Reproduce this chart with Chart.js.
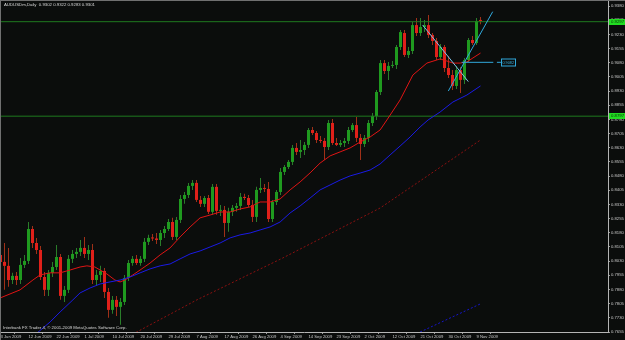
<!DOCTYPE html>
<html><head><meta charset="utf-8">
<script src="https://cdn.jsdelivr.net/npm/chart.js@4.4.1/dist/chart.umd.min.js"></script>
<style>html,body{margin:0;padding:0;background:#0b0d0c;overflow:hidden}</style>
</head><body>
<canvas id="c" width="625" height="340"></canvas>
<script>
// ---------- data ----------
const symbolTitle = "AUDUSDm,Daily  0.9302 0.9322 0.9283 0.9301";
const footerText = "Interbank FX Trader 4, \u00a9 2001-2009 MetaQuotes Software Corp.";

const dateLabels = ["3 Jun 2009","12 Jun 2009","22 Jun 2009","1 Jul 2009","10 Jul 2009","20 Jul 2009",
  "29 Jul 2009","7 Aug 2009","17 Aug 2009","26 Aug 2009","4 Sep 2009","14 Sep 2009","23 Sep 2009",
  "2 Oct 2009","12 Oct 2009","21 Oct 2009","30 Oct 2009","9 Nov 2009"];
const dateLabelBars = [0,7,14,21,28,35,42,49,56,63,70,77,84,91,98,105,112,119];

const priceTicks = [0.7655,0.7730,0.7805,0.7880,0.7955,0.8030,0.8105,0.8180,0.8255,0.8330,0.8405,0.8480,
  0.8555,0.8630,0.8705,0.8780,0.8855,0.8930,0.9005,0.9080,0.9155,0.9230,0.9305,0.9380];

const opens = [0.8063,0.8026,0.8005,0.7930,0.7952,0.7930,0.8010,0.8031,0.8200,0.8126,
  0.8089,0.7946,0.7878,0.7968,0.7999,0.8052,0.7846,0.7878,0.8042,0.8068,
  0.8079,0.8100,0.8068,0.8089,0.7930,0.7957,0.7978,0.7867,0.7772,0.7825,
  0.7788,0.7814,0.7941,0.8020,0.8042,0.8020,0.8042,0.8132,0.8153,0.8150,
  0.8142,0.8179,0.8200,0.8237,0.8158,0.8248,0.8359,0.8380,0.8428,0.8444,
  0.8354,0.8333,0.8364,0.8291,0.8423,0.8296,0.8301,0.8232,0.8291,0.8312,
  0.8322,0.8370,0.8364,0.8327,0.8264,0.8407,0.8417,0.8412,0.8253,0.8343,
  0.8396,0.8502,0.8528,0.8555,0.8629,0.8608,0.8618,0.8645,0.8724,0.8708,
  0.8671,0.8666,0.8634,0.8761,0.8655,0.8645,0.8655,0.8666,0.8724,0.8750,
  0.8682,0.8650,0.8682,0.8761,0.8798,0.8925,0.9078,0.9036,0.9063,0.9068,
  0.9163,0.9237,0.9121,0.9142,0.9279,0.9237,0.9269,0.9279,0.9227,0.9195,
  0.9110,0.9163,0.9052,0.9015,0.8957,0.9041,0.8989,0.9094,0.9200,0.9184,
  0.9302];
const highs = [0.8116,0.8126,0.8100,0.7968,0.7973,0.8047,0.8063,0.8237,0.8216,0.8153,
  0.8110,0.7973,0.7983,0.8026,0.8116,0.8068,0.7899,0.8063,0.8089,0.8100,
  0.8142,0.8158,0.8116,0.8121,0.7983,0.8005,0.7994,0.7888,0.7846,0.7846,
  0.7835,0.7957,0.8036,0.8057,0.8063,0.8057,0.8153,0.8169,0.8174,0.8179,
  0.8195,0.8216,0.8253,0.8259,0.8264,0.8380,0.8396,0.8444,0.8459,0.8459,
  0.8375,0.8375,0.8380,0.8438,0.8438,0.8327,0.8322,0.8312,0.8327,0.8338,
  0.8391,0.8386,0.8380,0.8354,0.8423,0.8470,0.8438,0.8449,0.8354,0.8407,
  0.8523,0.8539,0.8565,0.8645,0.8655,0.8671,0.8661,0.8735,0.8740,0.8719,
  0.8692,0.8682,0.8777,0.8782,0.8682,0.8671,0.8682,0.8740,0.8761,0.8793,
  0.8703,0.8698,0.8777,0.8814,0.8936,0.9094,0.9094,0.9084,0.9089,0.9174,
  0.9253,0.9253,0.9163,0.9295,0.9317,0.9317,0.9306,0.9332,0.9237,0.9211,
  0.9179,0.9174,0.9115,0.9041,0.9063,0.9057,0.9105,0.9211,0.9221,0.9317,
  0.9322];
const lows = [0.7994,0.7878,0.7894,0.7909,0.7904,0.7909,0.7994,0.8015,0.8100,0.8068,
  0.7930,0.7846,0.7846,0.7946,0.7983,0.7825,0.7814,0.7862,0.8020,0.8047,
  0.8057,0.8047,0.8036,0.7909,0.7899,0.7920,0.7835,0.7730,0.7751,0.7740,
  0.7693,0.7798,0.7925,0.8005,0.8010,0.8005,0.8026,0.8116,0.8137,0.8121,
  0.8110,0.8153,0.8190,0.8142,0.8142,0.8232,0.8333,0.8364,0.8407,0.8343,
  0.8317,0.8317,0.8280,0.8275,0.8275,0.8269,0.8158,0.8185,0.8269,0.8291,
  0.8301,0.8354,0.8317,0.8237,0.8237,0.8391,0.8396,0.8237,0.8237,0.8327,
  0.8380,0.8486,0.8518,0.8539,0.8592,0.8576,0.8592,0.8629,0.8698,0.8655,
  0.8655,0.8565,0.8618,0.8645,0.8639,0.8634,0.8634,0.8650,0.8713,0.8661,
  0.8565,0.8634,0.8661,0.8745,0.8777,0.8909,0.9020,0.8989,0.9052,0.9047,
  0.9147,0.9110,0.9105,0.9126,0.9221,0.9221,0.9242,0.9211,0.9174,0.9094,
  0.9094,0.9031,0.8999,0.8936,0.8941,0.8920,0.8967,0.9084,0.9174,0.9174,
  0.9283];
const closes = [0.8026,0.8005,0.7930,0.7952,0.7930,0.8010,0.8031,0.8200,0.8126,0.8089,
  0.7946,0.7878,0.7968,0.7999,0.8052,0.7846,0.7878,0.8042,0.8068,0.8079,
  0.8100,0.8068,0.8089,0.7930,0.7957,0.7978,0.7867,0.7772,0.7825,0.7788,
  0.7814,0.7941,0.8020,0.8042,0.8020,0.8042,0.8132,0.8153,0.8150,0.8142,
  0.8179,0.8200,0.8237,0.8158,0.8248,0.8359,0.8380,0.8428,0.8444,0.8354,
  0.8333,0.8364,0.8291,0.8423,0.8296,0.8301,0.8232,0.8291,0.8312,0.8322,
  0.8370,0.8364,0.8327,0.8264,0.8407,0.8417,0.8412,0.8253,0.8343,0.8396,
  0.8502,0.8528,0.8555,0.8629,0.8608,0.8618,0.8645,0.8724,0.8708,0.8671,
  0.8666,0.8634,0.8761,0.8655,0.8645,0.8655,0.8666,0.8724,0.8750,0.8682,
  0.8650,0.8682,0.8761,0.8798,0.8925,0.9078,0.9036,0.9063,0.9068,0.9163,
  0.9242,0.9121,0.9142,0.9279,0.9237,0.9269,0.9279,0.9227,0.9195,0.9110,
  0.9163,0.9052,0.9015,0.8957,0.9041,0.8989,0.9094,0.9200,0.9184,0.9301,
  0.9301];

// moving averages (bar position, price)
const maRedBars = [-0.1,4.9,8.1,9.9,12.4,14.9,17.4,19.9,21.6,23.6,24.9,26.6,28.6,29.9,31.1,33.1,34.9,37.4,39.9,42.4,
  44.9,47.4,49.9,52.4,54.9,57.4,59.9,62.4,64.9,67.4,69.9,72.4,74.9,77.4,79.9,82.4,84.9,87.4,89.9,92.4,
  94.9,96.6,99.9,103.1,106.6,109.9,111.6,113.1,114.9,116.6,118.1,120];
const maRedValues = [0.7835,0.7878,0.7930,0.7957,0.7968,0.7968,0.7983,0.7999,0.8005,0.7999,0.7983,0.7962,0.7930,0.7920,0.7930,0.7957,0.7983,0.8020,0.8063,0.8100,
  0.8158,0.8211,0.8259,0.8274,0.8290,0.8290,0.8306,0.8317,0.8343,0.8343,0.8359,0.8407,0.8449,0.8497,0.8549,0.8587,0.8608,0.8629,0.8660,0.8687,
  0.8724,0.8777,0.8883,0.9015,0.9078,0.9100,0.9089,0.9078,0.9078,0.9084,0.9105,0.9131];
const maBlueBars = [8.6,12.4,14.9,18.1,19.9,22.4,24.9,27.4,29.9,32.4,34.9,37.4,39.9,42.4,44.9,47.4,49.9,52.4,54.9,57.4,
  59.9,62.4,64.9,67.4,69.9,72.4,74.9,77.4,79.9,82.4,84.9,87.4,89.9,92.4,94.9,97.4,99.9,102.4,104.9,106.9,
  109.9,113.1,116.6,120];
const maBlueValues = [0.7640,0.7708,0.7761,0.7825,0.7862,0.7888,0.7909,0.7920,0.7930,0.7946,0.7968,0.7989,0.8005,0.8015,0.8042,0.8068,0.8084,0.8105,0.8126,0.8153,
  0.8169,0.8179,0.8195,0.8211,0.8237,0.8285,0.8322,0.8364,0.8407,0.8433,0.8459,0.8481,0.8496,0.8512,0.8544,0.8592,0.8639,0.8687,0.8740,0.8777,
  0.8819,0.8872,0.8909,0.8957];
const maSlowRedBars = [33,49.1,70.6,94.9,120];
const maSlowRedValues = [0.7643,0.7825,0.8047,0.8311,0.8671];
const maSlowBlueBars = [104,120];
const maSlowBlueValues = [0.7646,0.7804];

// drawn objects
const hLineLevels = [0.9297, 0.8797];
const trendDownBars = [105.55,116.95];
const trendDownValues = [0.9279,0.8980];
const trendUpBars = [111.95,123.05];
const trendUpValues = [0.8930,0.9350];
const priceLineBars = [115.3,123.2];
const priceLineLevel = 0.9082;
const priceLabelBars = [124.1,125.1,128.7];

// ---------- chart ----------
const BG = '#0b0d0c';
const UP = '#1f9a1f', DOWN = '#e0201a', UPW = '#2a7d2a', DOWNW = '#a03018';
const X_MIN = -0.125, X_MAX = 151.875;
Chart.defaults.font.family = '"Liberation Sans", Arial, sans-serif';

const isUp = opens.map((o,i)=>closes[i] >= o);
const pts = (xs, ys) => xs.map((x,k)=>({x:x, y:ys[k]}));

const datasets = [
  {type:'bar', label:'wicks', order:6, grouped:false, barThickness:1, minBarLength:1, inflateAmount:0,
   data: lows.map((l,i)=>({x:i, y:[l, highs[i]]})),
   backgroundColor: isUp.map(u=>u?UPW:DOWNW), borderWidth:0},
  {type:'bar', label:'bodies', order:5, grouped:false, barThickness:3, minBarLength:1, inflateAmount:0,
   data: opens.map((o,i)=>({x:i, y:[Math.min(o,closes[i]), Math.max(o,closes[i])]})),
   backgroundColor: isUp.map(u=>u?UP:DOWN), borderWidth:0},
  ...hLineLevels.map(v=>({type:'line', order:4, data:[{x:X_MIN,y:v},{x:X_MAX,y:v}],
   borderColor:'#1f7a1f', borderWidth:1, pointRadius:0})),
  {type:'line', order:3, data: pts(maSlowRedBars, maSlowRedValues), borderColor:'#8b1010', borderWidth:1, borderDash:[2,2], pointRadius:0},
  {type:'line', order:3, data: pts(maSlowBlueBars, maSlowBlueValues), borderColor:'#1515c8', borderWidth:1, borderDash:[2,2], pointRadius:0},
  {type:'line', order:2, data: pts(maBlueBars, maBlueValues), borderColor:'#1a1ae6', borderWidth:1, pointRadius:0},
  {type:'line', order:2, data: pts(maRedBars, maRedValues), borderColor:'#e01414', borderWidth:1, pointRadius:0},
  {type:'line', order:1, data: pts(trendDownBars, trendDownValues), borderColor:'#7cc4ea', borderWidth:1, pointRadius:0},
  {type:'line', order:1, data: pts(trendUpBars, trendUpValues), borderColor:'#30a8dc', borderWidth:1, pointRadius:0},
  {type:'line', order:1, data: priceLineBars.map(b=>({x:b,y:priceLineLevel})), borderColor:'#30a8dc', borderWidth:1, pointRadius:0},
  {type:'line', order:1, data: priceLabelBars.slice(0,2).map(b=>({x:b,y:priceLineLevel})), borderColor:'#30a8dc', borderWidth:1, pointRadius:0}
];

const overlay = {
  id:'mt4overlay',
  beforeDraw(chart){
    const ctx = chart.ctx;
    ctx.save(); ctx.fillStyle = BG; ctx.fillRect(0,0,chart.width,chart.height); ctx.restore();
  },
  afterDraw(chart){
    const ctx = chart.ctx, ys = chart.scales.y, xs = chart.scales.x, ca = chart.chartArea;
    ctx.save();
    ctx.fillStyle = '#707070';
    ctx.fillRect(0,0,chart.width,1);
    ctx.fillRect(0,0,1,chart.height);
    ctx.font = '4.3px "Liberation Sans", Arial, sans-serif';
    ctx.textBaseline = 'middle';
    ctx.textAlign = 'left';
    ctx.fillStyle = '#d8d8d8';
    ctx.fillText(symbolTitle, 4, 5);
    ctx.fillText(footerText, 3, 328);
    hLineLevels.forEach(v=>{
      const py = ys.getPixelForValue(v);
      ctx.fillStyle = '#22dd22';
      ctx.fillRect(ca.right+1, Math.round(py)-3, 16, 6);
      ctx.fillStyle = '#063006';
      ctx.fillText(v.toFixed(4), ca.right+3, py);
    });
    const py = Math.round(ys.getPixelForValue(priceLineLevel)) + 0.5;
    const x1 = xs.getPixelForValue(priceLabelBars[1]), x2 = xs.getPixelForValue(priceLabelBars[2]);
    ctx.strokeStyle = '#30a8dc'; ctx.lineWidth = 1;
    ctx.strokeRect(Math.round(x1)+0.5, py-3.5, Math.round(x2-x1), 7);
    ctx.fillStyle = '#3ab0e0';
    ctx.font = '3.8px "Liberation Sans", Arial, sans-serif';
    ctx.fillText(priceLineLevel.toFixed(4), x1+1.5, py);
    ctx.restore();
  }
};

new Chart(document.getElementById('c'), {
  type:'bar',
  data:{datasets},
  plugins:[overlay],
  options:{
    responsive:false, devicePixelRatio:1, animation:false,
    layout:{padding:{left:0, top:1, right:0, bottom:0}},
    plugins:{legend:{display:false}, tooltip:{enabled:false}, title:{display:false}},
    scales:{
      x:{type:'linear', min:X_MIN, max:X_MAX, offset:false,
        afterBuildTicks:s=>{ s.ticks = dateLabelBars.map(v=>({value:v})); },
        afterFit:s=>{ s.height = 8; s.paddingLeft = 0; s.paddingRight = 0; },
        grid:{drawOnChartArea:false, drawTicks:true, tickLength:2, color:'#9a9a9a'},
        border:{display:true, color:'#b4b4b4'},
        ticks:{autoSkip:false, maxRotation:0, minRotation:0, align:'start', padding:0.5,
          color:'#c8c8c8', font:{size:4.2}, callback:(v,i)=>dateLabels[i]}},
      y:{type:'linear', position:'right', min:0.7655, max:0.94065,
        afterBuildTicks:s=>{ s.ticks = priceTicks.map(v=>({value:v})); },
        afterFit:s=>{ s.width = 17; s.paddingTop = 0; s.paddingBottom = 0; },
        grid:{drawOnChartArea:false, drawTicks:true, tickLength:2, color:'#9a9a9a'},
        border:{display:true, color:'#b4b4b4'},
        ticks:{autoSkip:false, padding:1, color:'#c8c8c8', font:{size:4.2},
          callback:v=>Number(v).toFixed(4)}}
    }
  }
});
</script>
</body></html>
